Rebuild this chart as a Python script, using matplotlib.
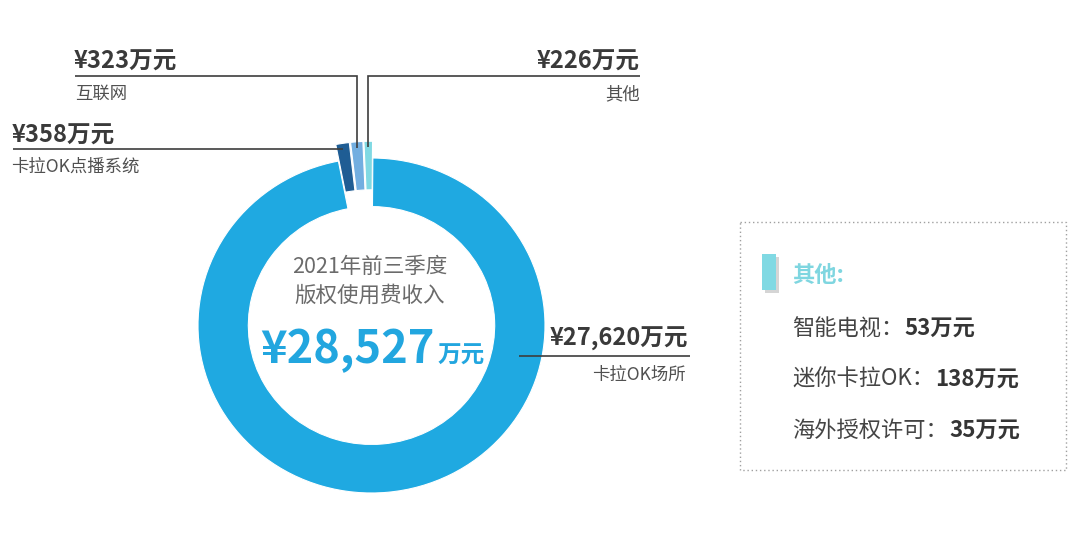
import matplotlib
matplotlib.use("Agg")
import numpy as np
import matplotlib.pyplot as plt
from matplotlib.patches import Rectangle

plt.rcParams['font.family'] = ['Noto Sans CJK SC', 'DejaVu Sans']

# data
segments = ["卡拉OK点播系统", "互联网", "其他", "卡拉OK场所"]
values = [358, 323, 226, 27620]
seg_colors = ["#1f5d94", "#72aee0", "#80d9e3", "#1fa9e1"]
title_lines = ["2021年前三季度", "版权使用费收入"]
total = sum(values)
other_title = "其他:"
other_names = ["智能电视", "迷你卡拉OK", "海外授权许可"]
other_values = [53, 138, 35]

W, H = 1080, 540
fig = plt.figure(figsize=(W / 100, H / 100), dpi=100)

# donut (picture is a bit wider than tall)
cx, cy = 371.5, 325.5
rx, ry = 173.5, 167.5
axp = fig.add_axes([(cx - 1.25 * rx) / W, (H - cy - 1.25 * ry) / H, 2.5 * rx / W, 2.5 * ry / H])
wedges, _ = axp.pie(values, colors=seg_colors, startangle=101, counterclock=False,
                    explode=[0.1, 0.1, 0.1, 0], radius=1,
                    wedgeprops=dict(width=0.29, edgecolor="white", linewidth=0.8))
axp.set_aspect("auto")
axp.set_xlim(-1.25, 1.25)
axp.set_ylim(-1.25, 1.25)
axp.set_axis_off()

# overlay in pixel coords for labels
ax = fig.add_axes([0, 0, 1, 1])
ax.set_xlim(0, W)
ax.set_ylim(H, 0)
ax.set_axis_off()


def tip(w, rr=0.965, ang=None):
    if ang is None:
        ang = (w.theta1 + w.theta2) / 2
    m = np.deg2rad(ang)
    x0, y0 = w.center
    p = axp.transData.transform((x0 + rr * np.cos(m), y0 + rr * np.sin(m)))
    return ax.transData.inverted().transform(p)


dark = "#3a3a3a"
gray = "#505050"
lkw = dict(color="#3d3d3d", lw=1.2, solid_capstyle="butt", solid_joinstyle="miter")
vkw = dict(fontsize=17, fontweight="bold", color=dark, va="center")
skw = dict(fontsize=12.5, color=gray, va="center")

def money(v):
    return f"¥{v:,}万元"

# 卡拉OK点播系统
tx, ty = tip(wedges[0])
ax.plot([13, tx], [ty, ty], **lkw)
ax.text(12, ty - 14, money(values[0]), ha="left", **vkw)
ax.text(11, ty + 18, segments[0], ha="left", **skw)

# 互联网
top_y = 76
tx, ty = tip(wedges[1])
ax.plot([75, tx, tx], [top_y, top_y, ty], **lkw)
ax.text(74, top_y - 14, money(values[1]), ha="left", **vkw)
ax.text(75, top_y + 18, segments[1], ha="left", **skw)

# 其他
tx, ty = tip(wedges[2])
ax.plot([640, tx, tx], [top_y, top_y, ty], **lkw)
ax.text(640, top_y - 14, money(values[2]), ha="right", **vkw)
ax.text(640, top_y + 18, segments[2], ha="right", **skw)

# 卡拉OK场所
tx, ty = tip(wedges[3], rr=0.87, ang=-12)
ax.plot([tx, 690], [ty, ty], **lkw)
ax.text(688, ty - 17, money(values[3]), ha="right", **vkw)
ax.text(686, ty + 19, segments[3], ha="right", **skw)

# centre text
ax.text(370, 267, title_lines[0], ha="center", va="center", fontsize=15.5, color="#6b6b6b")
ax.text(370, 296, title_lines[1], ha="center", va="center", fontsize=15.5, color="#6b6b6b")
blue = "#22a6df"
t = ax.text(435, 363, f"¥{total:,}", ha="right", va="baseline", fontsize=32.5,
            fontweight="bold", color=blue)
ax.annotate("万元", xy=(1, 363), xycoords=(t, "data"), xytext=(2, 0),
            textcoords="offset points", ha="left", va="baseline",
            fontsize=17, fontweight="bold", color=blue)

# side box for 其他
ax.add_patch(Rectangle((740, 222), 326, 248, fill=False, edgecolor="#a0a0a0",
                       lw=1, linestyle=(0, (1, 2))))
ax.add_patch(Rectangle((765, 257), 14, 36, color="#d5d5d5", lw=0))
ax.add_patch(Rectangle((762, 254), 14, 36, color=seg_colors[2], lw=0))
ax.text(792, 275, other_title, ha="left", va="center", fontsize=16,
        fontweight="bold", color="#7fd6e0")
for i, (name, v) in enumerate(zip(other_names, other_values)):
    y = 328 + i * 51
    t = ax.text(792, y, name + "：", ha="left", va="center", fontsize=16, color="#444444")
    ax.annotate(f"{v}万元", xy=(1, 0.5), xycoords=t, xytext=(1, 0),
                textcoords="offset points", ha="left", va="center",
                fontsize=16, fontweight="bold", color="#353535")

fig.savefig("out.png", dpi=100)
